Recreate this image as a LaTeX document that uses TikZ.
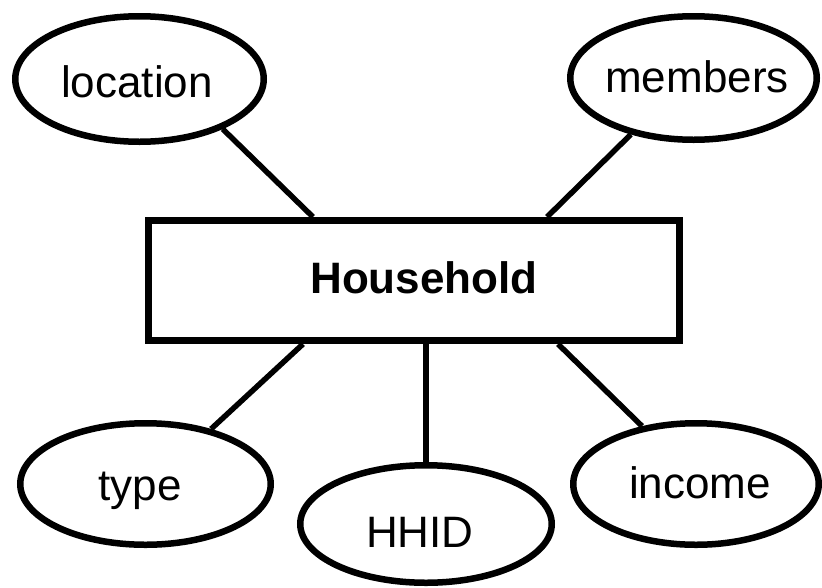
\documentclass[tikz,border=0pt]{standalone}
\usepackage{fontspec}
\setmainfont{Liberation Sans}
\usetikzlibrary{shapes.geometric}
\begin{document}
\begin{tikzpicture}[x=1pt, y=-1pt,
  attr/.style={ellipse, draw, line width=6.5pt, inner sep=0pt},
  entity/.style={rectangle, draw, line width=7pt, inner sep=0pt},
  word/.style={anchor=base, inner sep=0pt, font=\fontsize{44}{50}\selectfont},
  bigword/.style={word, font=\bfseries\fontsize{44}{50}\selectfont},
  link/.style={line width=5.5pt}]
\useasboundingbox (0,0) rectangle (822,587);

% entity
\node[entity, minimum width=531pt, minimum height=120pt] (hh) at (414,280.5) {};
\node[bigword] (hhtext) at (424,293) {Household};

% attributes
\node[attr, minimum width=248.5pt, minimum height=125.5pt] (loc) at (139.5,79) {};
\node[word] (loctext) at (137,97) {location};

\node[attr, minimum width=246.5pt, minimum height=123.5pt] (mem) at (693.5,78) {};
\node[word] (memtext) at (697,92) {members};

\node[attr, minimum width=250.5pt, minimum height=121.5pt] (typ) at (145.5,484) {};
\node[word] (typtext) at (140,500) {type};

\node[attr, minimum width=251.5pt, minimum height=117.5pt] (hhid) at (426,524) {};
\node[word] (hhidtext) at (420,547) {HHID};

\node[attr, minimum width=245.5pt, minimum height=121.5pt] (inc) at (696,484) {};
\node[word] (inctext) at (700,498) {income};

% connectors
\draw[link] (loc.-31) -- ([xshift=-101pt]hh.north);
\draw[link] (mem.-138) -- ([xshift=133pt]hh.north);
\draw[link] (typ.40) -- ([xshift=-111pt]hh.south);
\draw[link] (hhid.north) -- (hhid.north |- hh.south);
\draw[link] (inc.133) -- ([xshift=144pt]hh.south);
\end{tikzpicture}
\end{document}
